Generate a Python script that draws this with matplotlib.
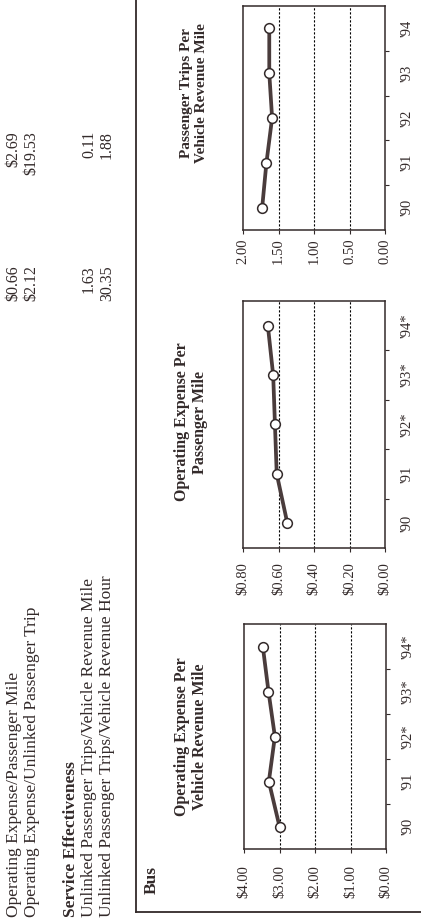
import numpy as np
import matplotlib
matplotlib.use("Agg")
import matplotlib.pyplot as plt
from matplotlib.lines import Line2D

W, H, DPI = 421, 924, 100
plt.rcParams['font.family'] = ['Liberation Serif', 'DejaVu Serif']

# ---- data ----
years_star = ["'90", "'91", "'92*", "'93*", "'94*"]
years_plain = ["'90", "'91", "'92", "'93", "'94"]
opex_per_vrm = [3.00, 3.30, 3.13, 3.31, 3.47]
opex_per_pm = [0.55, 0.61, 0.62, 0.63, 0.66]
trips_per_vrm = [1.73, 1.67, 1.59, 1.63, 1.63]

summary_labels = ["Operating Expense/Passenger Mile",
                  "Operating Expense/Unlinked Passenger Trip",
                  "Unlinked Passenger Trips/Vehicle Revenue Mile",
                  "Unlinked Passenger Trips/Vehicle Revenue Hour"]
summary_col1 = ["$0.66", "$2.12", "1.63", "30.35"]
summary_col2 = ["$2.69", "$19.53", "0.11", "1.88"]

INK = "#332a2a"
LINE = "#4a3c3c"

fig = plt.figure(figsize=(W / DPI, H / DPI), dpi=DPI)
fig.patch.set_facecolor("white")


def fx(x):
    return x / W


def fy(y):
    return 1 - y / H


def rect(x0, y0, x1, y1):
    return [fx(x0), fy(y1), (x1 - x0) / W, (y1 - y0) / H]


def ptext(x, y, s, **kw):
    kw.setdefault("rotation", 90)
    kw.setdefault("color", INK)
    fig.text(fx(x), fy(y), s, **kw)


# ---- summary table text (page is turned sideways) ----
ptext(14, 917, summary_labels[0], fontsize=12.5, ha="center", va="bottom")
ptext(32, 917, summary_labels[1], fontsize=12.5, ha="center", va="bottom")
ptext(71, 917, "Service Effectiveness", fontsize=12.5, fontweight="bold",
      ha="center", va="bottom")
ptext(89, 917, summary_labels[2], fontsize=12.5, ha="center", va="bottom")
ptext(107, 917, summary_labels[3], fontsize=12.5, ha="center", va="bottom")

for xc, a, b in zip([13, 31, 89, 107], summary_col1, summary_col2):
    ptext(xc, 265, a, fontsize=11.5, ha="center", va="top")
    ptext(xc, 131, b, fontsize=11.5, ha="center", va="top")

# section frame
fig.add_artist(Line2D([fx(136), fx(136)], [fy(0), fy(912)],
                      transform=fig.transFigure, color=INK, lw=1.3))
fig.add_artist(Line2D([fx(136), fx(421)], [fy(912), fy(912)],
                      transform=fig.transFigure, color=INK, lw=1.3))
ptext(152, 894, "Bus", fontsize=12.5, fontweight="bold", ha="center", va="bottom")

# ---- the three trend charts ----
charts = [
    dict(box=(244, 624, 386, 849), vals=opex_per_vrm, years=years_star,
         vmax=4.0, step=1.0, fmt="${:.2f}", pad=15, title_x=191, title_y=737,
         title_size=11.5, title="Operating Expense Per\nVehicle Revenue Mile"),
    dict(box=(243, 301, 385, 548), vals=opex_per_pm, years=years_star,
         vmax=0.8, step=0.2, fmt="${:.2f}", pad=13, title_x=191, title_y=422,
         title_size=11.5, title="Operating Expense Per\nPassenger Mile"),
    dict(box=(243, 6, 385, 230), vals=trips_per_vrm, years=years_plain,
         vmax=2.0, step=0.5, fmt="{:.2f}", pad=7, title_x=194, title_y=93,
         title_size=11, title="Passenger Trips Per\nVehicle Revenue Mile"),
]

for c in charts:
    ax = fig.add_axes(rect(*c["box"]))
    idx = np.arange(len(c["vals"]))
    ax.plot(c["vals"], idx, color=LINE, lw=2.7, zorder=3,
            marker="o", ms=7, mfc="white", mec=INK, mew=1.1)
    ax.set_xlim(c["vmax"], 0)
    ax.set_ylim(-0.5, len(idx) - 0.5)

    ticks = np.arange(0, c["vmax"] + c["step"] / 2, c["step"])
    ax.set_xticks(ticks)
    ax.set_xticklabels([c["fmt"].format(t) for t in ticks])
    ax.tick_params(axis="x", direction="out", length=3, width=0.8,
                   color=INK, labelcolor=INK, labelsize=10.5,
                   labelrotation=90, pad=c["pad"] * 0.72 - 2)
    for lab in ax.get_xticklabels():
        lab.set_ha("center")
        lab.set_va("top")
    for t in ticks[1:-1]:
        ax.axvline(t, color="black", lw=0.8, ls=(0, (2, 1.6)), zorder=1)

    ax.yaxis.tick_right()
    ax.set_yticks(idx)
    ax.set_yticklabels(c["years"])
    ax.set_yticks(idx[:-1] + 0.5, minor=True)
    ax.tick_params(axis="y", which="major", length=0, pad=11,
                   labelsize=10.5, labelcolor=INK, labelrotation=90)
    ax.tick_params(axis="y", which="minor", direction="out", length=3,
                   width=0.8, color=INK)
    for lab in ax.get_yticklabels():
        lab.set_va("center")
        lab.set_ha("left")

    for s in ax.spines.values():
        s.set_color(INK)
        s.set_linewidth(1.1)

    ptext(c["title_x"], c["title_y"], c["title"], fontsize=c["title_size"],
          fontweight="bold", ha="center", va="center",
          multialignment="center", linespacing=1.2)

fig.savefig("out.png", dpi=DPI, facecolor="white")
